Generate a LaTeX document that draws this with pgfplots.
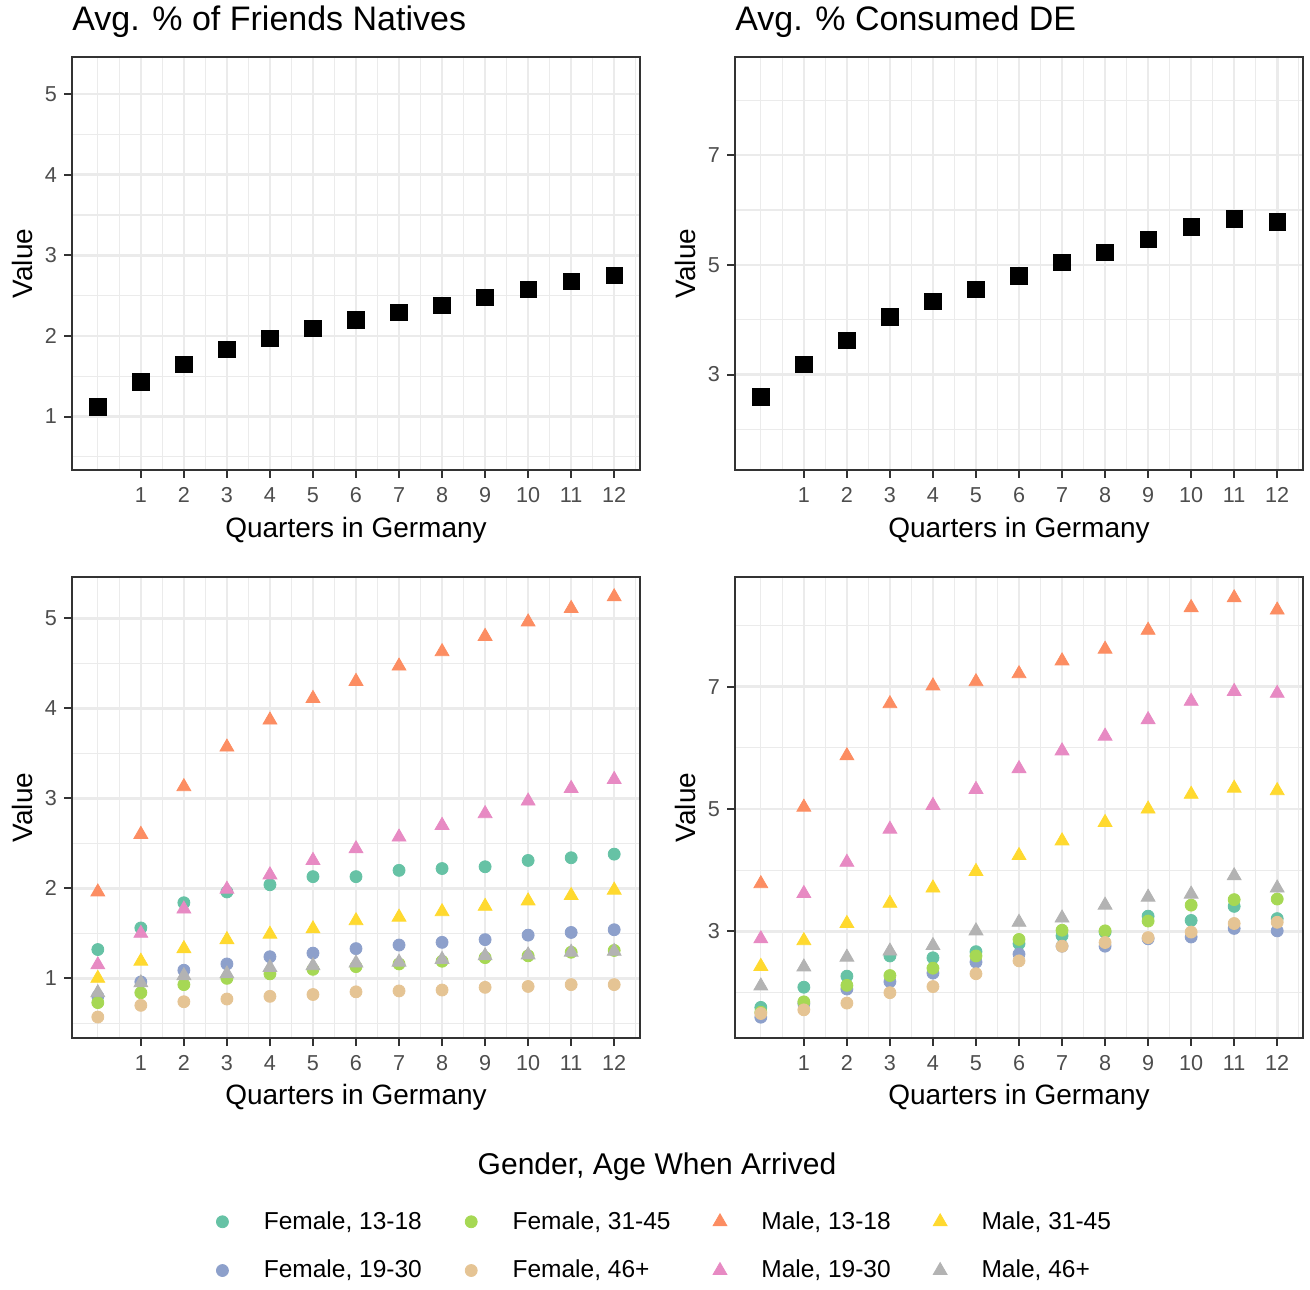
\documentclass[border=0pt]{standalone}
\usepackage{fontspec}
\setmainfont{Liberation Sans}
\usepackage{pgfplots}
\usepackage{pgfplotstable}
\pgfplotsset{compat=1.18}

\definecolor{c1}{HTML}{66C2A5}
\definecolor{c2}{HTML}{8DA0CB}
\definecolor{c3}{HTML}{A6D854}
\definecolor{c4}{HTML}{E5C494}
\definecolor{c5}{HTML}{FC8D62}
\definecolor{c6}{HTML}{E78AC3}
\definecolor{c7}{HTML}{FFD92F}
\definecolor{c8}{HTML}{B3B3B3}
\definecolor{gridc}{HTML}{EBEBEB}
\definecolor{tickc}{HTML}{4D4D4D}
\definecolor{framec}{HTML}{333333}

\pgfplotstableread{
x v
0 1.12
1 1.43
2 1.65
3 1.83
4 1.97
5 2.09
6 2.20
7 2.29
8 2.38
9 2.48
10 2.58
11 2.68
12 2.75
}\tabTL

\pgfplotstableread{
x v
0 2.59
1 3.19
2 3.62
3 4.05
4 4.33
5 4.55
6 4.80
7 5.04
8 5.23
9 5.46
10 5.69
11 5.84
12 5.78
}\tabTR

\pgfplotstableread{
x F13 F19 F31 F46 M13 M19 M31 M46
0 1.32 0.80 0.73 0.57 1.96 1.15 1.00 0.84
1 1.56 0.96 0.84 0.70 2.60 1.50 1.19 0.95
2 1.84 1.09 0.93 0.74 3.13 1.77 1.33 1.03
3 1.96 1.16 1.00 0.77 3.57 1.99 1.43 1.05
4 2.04 1.24 1.05 0.80 3.87 2.15 1.49 1.12
5 2.13 1.28 1.10 0.82 4.11 2.31 1.55 1.14
6 2.13 1.33 1.13 0.85 4.30 2.44 1.64 1.17
7 2.20 1.37 1.16 0.86 4.47 2.57 1.68 1.18
8 2.22 1.40 1.19 0.87 4.63 2.70 1.74 1.21
9 2.24 1.43 1.23 0.90 4.80 2.83 1.80 1.25
10 2.31 1.48 1.25 0.91 4.96 2.97 1.86 1.26
11 2.34 1.51 1.29 0.93 5.11 3.11 1.92 1.29
12 2.38 1.54 1.31 0.93 5.24 3.21 1.98 1.30
}\tabLB

\pgfplotstableread{
x F13 F19 F31 F46 M13 M19 M31 M46
0 1.76 1.60 1.68 1.66 3.78 2.88 2.43 2.11
1 2.09 1.82 1.85 1.72 5.03 3.62 2.85 2.42
2 2.27 2.06 2.12 1.83 5.87 4.13 3.13 2.58
3 2.60 2.18 2.28 2.00 6.72 4.67 3.46 2.68
4 2.57 2.32 2.40 2.10 7.01 5.06 3.71 2.77
5 2.67 2.50 2.60 2.31 7.08 5.32 3.98 3.01
6 2.80 2.63 2.87 2.52 7.21 5.66 4.24 3.15
7 2.93 2.76 3.02 2.76 7.42 5.95 4.48 3.22
8 2.99 2.76 3.01 2.82 7.61 6.19 4.78 3.43
9 3.25 2.88 3.17 2.90 7.92 6.46 5.00 3.56
10 3.18 2.91 3.43 2.99 8.29 6.76 5.24 3.61
11 3.41 3.05 3.52 3.13 8.45 6.92 5.34 3.91
12 3.21 3.01 3.53 3.15 8.25 6.89 5.30 3.71
}\tabRB

\pgfplotsset{
  gg/.style={
    scale only axis,
    width=284pt,
    xmin=-0.6, xmax=12.6,
    xtick={1,...,12},
    minor xtick={0,0.5,1.5,...,12.5},
    tick pos=left,
    tick align=outside,
    major tick length=4pt,
    minor tick length=0pt,
    grid=both,
    major grid style={draw=gridc, line width=1.3pt},
    minor grid style={draw=gridc, line width=0.65pt},
    axis line style={draw=framec, line width=0.6pt},
    every tick/.style={draw=framec, line width=1pt},
    tick label style={font=\fontsize{10.8}{12}\selectfont, text=tickc},
    xticklabel style={yshift=-1.2pt},
    /pgf/number format/assume math mode=true,
    label style={font=\fontsize{14}{16}\selectfont},
    xlabel={Quarters in Germany},
    ylabel={Value},
    ylabel style={at={(axis description cs:-0.088,0.5)}, anchor=center},
    title style={font=\fontsize{17}{20}\selectfont, at={(axis description cs:0,1)}, anchor=base west, inner sep=0pt, yshift=7pt},
  },
  ggleft/.style={ymin=0.337, ymax=5.46, ytick={1,...,5}, minor ytick={0.5,1.5,...,5.5}},
  ggright/.style={ymin=1.26, ymax=8.79, ytick={3,5,7}, minor ytick={2,4,6,8}},
  ggtop/.style={height=206.5pt, xlabel style={at={(axis description cs:0.5,-0.145)}, anchor=center}},
  ggbot/.style={height=230.5pt, xlabel style={at={(axis description cs:0.5,-0.128)}, anchor=center}},
  sq/.style={only marks, mark=square*, mark size=4.1pt, color=black},
  gF13/.style={only marks, mark=*, mark size=3pt, color=c1},
  gF19/.style={only marks, mark=*, mark size=3pt, color=c2},
  gF31/.style={only marks, mark=*, mark size=3pt, color=c3},
  gF46/.style={only marks, mark=*, mark size=3pt, color=c4},
  gM13/.style={only marks, mark=triangle*, mark size=4pt, color=c5},
  gM19/.style={only marks, mark=triangle*, mark size=4pt, color=c6},
  gM31/.style={only marks, mark=triangle*, mark size=4pt, color=c7},
  gM46/.style={only marks, mark=triangle*, mark size=4pt, color=c8},
}

\begin{document}
\begin{tikzpicture}
\useasboundingbox (0pt,0pt) rectangle (655pt,644.5pt);

\begin{axis}[gg, ggleft, ggtop, at={(36pt,409.5pt)}, anchor=south west,
  title={Avg. \% of Friends Natives}]
\addplot[sq] table[x=x, y=v] {\tabTL};
\end{axis}

\begin{axis}[gg, ggright, ggtop, at={(367.5pt,409.5pt)}, anchor=south west,
  title={Avg. \% Consumed DE}]
\addplot[sq] table[x=x, y=v] {\tabTR};
\end{axis}

\begin{axis}[gg, ggleft, ggbot, at={(36pt,125.5pt)}, anchor=south west,
  legend columns=4,
  legend cell align=left,
  legend image code/.code={\path (0pt,0pt) (22pt,0pt); \draw[#1] plot coordinates {(3.5pt,0pt)};},
  legend style={at={(axis description cs:1.044,-0.3666)}, anchor=north, draw=none, fill=none,
    inner sep=0pt, font=\fontsize{12.25}{14}\selectfont, row sep=10pt,
    /tikz/every even column/.append style={column sep=19pt}}]
\addplot[gF13, forget plot] table[x=x, y=F13] {\tabLB};
\addplot[gF19, forget plot] table[x=x, y=F19] {\tabLB};
\addplot[gF31, forget plot] table[x=x, y=F31] {\tabLB};
\addplot[gF46, forget plot] table[x=x, y=F46] {\tabLB};
\addplot[gM13, forget plot] table[x=x, y=M13] {\tabLB};
\addplot[gM19, forget plot] table[x=x, y=M19] {\tabLB};
\addplot[gM31, forget plot] table[x=x, y=M31] {\tabLB};
\addplot[gM46, forget plot] table[x=x, y=M46] {\tabLB};
\addlegendimage{gF13}\addlegendentry{Female, 13-18}
\addlegendimage{gF31}\addlegendentry{Female, 31-45}
\addlegendimage{gM13}\addlegendentry{Male, 13-18}
\addlegendimage{gM31}\addlegendentry{Male, 31-45}
\addlegendimage{gF19}\addlegendentry{Female, 19-30}
\addlegendimage{gF46}\addlegendentry{Female, 46+}
\addlegendimage{gM19}\addlegendentry{Male, 19-30}
\addlegendimage{gM46}\addlegendentry{Male, 46+}
\end{axis}

\begin{axis}[gg, ggright, ggbot, at={(367.5pt,125.5pt)}, anchor=south west]
\addplot[gF13] table[x=x, y=F13] {\tabRB};
\addplot[gF19] table[x=x, y=F19] {\tabRB};
\addplot[gF31] table[x=x, y=F31] {\tabRB};
\addplot[gF46] table[x=x, y=F46] {\tabRB};
\addplot[gM13] table[x=x, y=M13] {\tabRB};
\addplot[gM19] table[x=x, y=M19] {\tabRB};
\addplot[gM31] table[x=x, y=M31] {\tabRB};
\addplot[gM46] table[x=x, y=M46] {\tabRB};
\end{axis}

\node[font=\fontsize{15}{18}\selectfont, anchor=center] at (328.5pt,61pt) {Gender, Age When Arrived};
\end{tikzpicture}
\end{document}
